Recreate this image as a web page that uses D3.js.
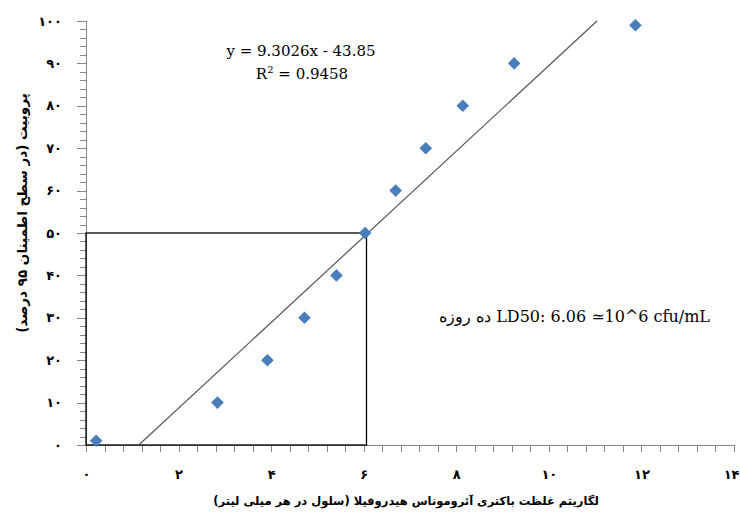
<!DOCTYPE html>
<html>
<head>
<meta charset="utf-8">
<script src="https://cdn.jsdelivr.net/npm/d3@7"></script>
<style>
body { margin: 0; background: #fff; }
.axis path, .axis line { stroke: #868686; shape-rendering: crispEdges; }
.axis text { font-family: "DejaVu Sans", sans-serif; font-weight: bold; font-size: 13px; fill: #000; }
</style>
</head>
<body>
<div id="chart"></div>
<script>
// points: log dose vs probit
const dose   = [0.22, 2.84, 3.92, 4.72, 5.41, 6.03, 6.69, 7.34, 8.14, 9.25, 11.87];
const probit = [1, 10, 20, 30, 40, 50, 60, 70, 80, 90, 99];

// trend line as drawn (two ends)
const trendX = [1.14, 11.04];
const trendY = [0, 100];

// LD50 box corner
const ld50X = 6.06, ld50Y = 50;

const xTicks = [0, 2, 4, 6, 8, 10, 12, 14];
const xTickLabels = ["۰", "۲", "۴", "۶", "۸", "۱۰", "۱۲", "۱۴"];
const yTicks = [0, 10, 20, 30, 40, 50, 60, 70, 80, 90, 100];
const yTickLabels = ["۰", "۱۰", "۲۰", "۳۰", "۴۰", "۵۰", "۶۰", "۷۰", "۸۰", "۹۰", "۱۰۰"];

const W = 740, H = 522;
const m = {left: 86, right: 734, top: 21, bottom: 445};

const svg = d3.select("#chart").append("svg")
    .attr("width", W).attr("height", H);

const x = d3.scaleLinear().domain([0, 14]).range([m.left, m.right]);
const y = d3.scaleLinear().domain([0, 100]).range([m.bottom, m.top]);

// minor ticks
svg.append("g").attr("class", "axis")
    .attr("transform", "translate(0," + m.bottom + ")")
    .call(d3.axisBottom(x).tickValues(d3.range(0, 14.01, 0.4)).tickSize(7).tickFormat(""));
svg.append("g").attr("class", "axis")
    .attr("transform", "translate(" + m.left + ",0)")
    .call(d3.axisLeft(y).tickValues(d3.range(0, 100.1, 2)).tickSize(6).tickFormat(""));

// major ticks + labels
svg.append("g").attr("class", "axis")
    .attr("transform", "translate(0," + m.bottom + ")")
    .call(d3.axisBottom(x).tickValues(xTicks).tickSize(7).tickPadding(18)
        .tickFormat((d, i) => xTickLabels[i]))
    .call(g => g.select(".domain").attr("stroke-width", 1.3))
    // last label sits at the page edge, keep it inside
    .call(g => g.selectAll(".tick text").filter(d => d === 14)
        .attr("text-anchor", "end").attr("dx", 5));
svg.append("g").attr("class", "axis")
    .attr("transform", "translate(" + m.left + ",0)")
    .call(d3.axisLeft(y).tickValues(yTicks).tickSize(9).tickPadding(15)
        .tickFormat((d, i) => yTickLabels[i]))
    .call(g => g.select(".domain").attr("stroke-width", 1.3));

// LD50 rectangle
svg.append("rect")
    .attr("x", x(0)).attr("y", y(ld50Y))
    .attr("width", x(ld50X) - x(0)).attr("height", y(0) - y(ld50Y))
    .attr("fill", "none").attr("stroke", "#000").attr("stroke-width", 1.3);

// trend line
svg.append("line")
    .attr("x1", x(trendX[0])).attr("y1", y(trendY[0]))
    .attr("x2", x(trendX[1])).attr("y2", y(trendY[1]))
    .attr("stroke", "#555").attr("stroke-width", 1.2);

// points
const diamond = d3.symbol().type(d3.symbolSquare).size(80);
svg.append("g").selectAll("path")
    .data(dose)
    .join("path")
    .attr("d", diamond)
    .attr("transform", (d, i) => "translate(" + x(d) + "," + y(probit[i]) + ") rotate(45)")
    .attr("fill", "#4a7ebb");

// equation
const eq = svg.append("text")
    .attr("text-anchor", "middle")
    .style("font-family", "'DejaVu Serif', serif")
    .style("font-size", "15px");
eq.append("tspan").attr("x", 301).attr("y", 56).text("y = 9.3026x - 43.85");
const r2 = eq.append("tspan").attr("x", 302).attr("y", 79);
r2.append("tspan").text("R");
r2.append("tspan").attr("dy", -6).style("font-size", "10px").text("2");
r2.append("tspan").attr("dy", 6).text(" = 0.9458");

// LD50 note
svg.append("text")
    .attr("x", 710).attr("y", 322)
    .attr("text-anchor", "end")
    .style("font-family", "'DejaVu Serif', serif")
    .style("font-size", "16px")
    .text("ده روزه LD50: 6.06 \u224310^6 cfu/mL");

// axis titles
svg.append("text")
    .attr("x", 406).attr("y", 505)
    .attr("text-anchor", "middle")
    .attr("direction", "rtl")
    .style("font-family", "'DejaVu Sans', sans-serif")
    .style("font-weight", "bold")
    .style("font-size", "11.5px")
    .text("لگاریتم غلظت باکتری آئروموناس هیدروفیلا (سلول در هر میلی لیتر)");

svg.append("text")
    .attr("transform", "translate(27,213) rotate(-90)")
    .attr("text-anchor", "middle")
    .attr("direction", "rtl")
    .style("font-family", "'DejaVu Sans', sans-serif")
    .style("font-weight", "bold")
    .style("font-size", "13.5px")
    .text("پروبیت (در سطح اطمینان ۹۵ درصد)");
</script>
</body>
</html>
